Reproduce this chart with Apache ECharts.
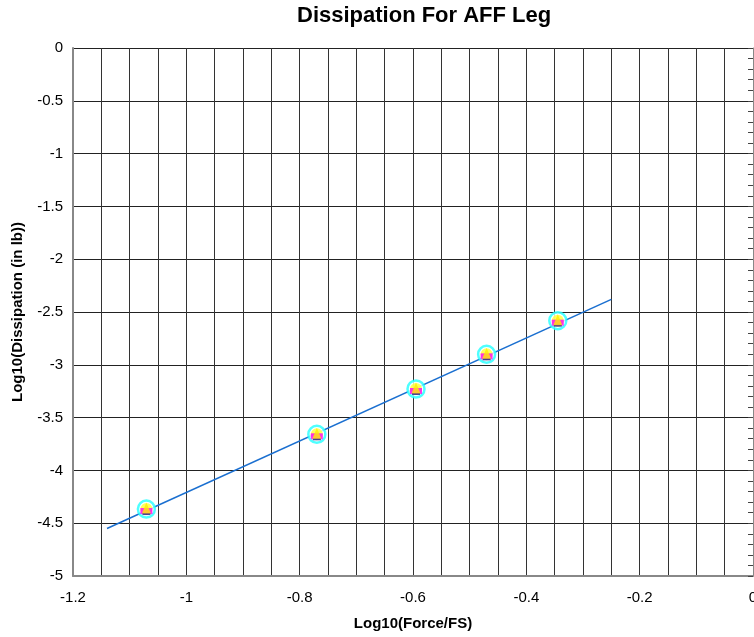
<!DOCTYPE html>
<html>
<head>
<meta charset="utf-8">
<script src="https://cdn.jsdelivr.net/npm/echarts@6/dist/echarts.min.js"></script>
<style>
  html, body { margin: 0; padding: 0; background: #fff; }
  #chart { width: 754px; height: 637px; }
</style>
</head>
<body>
<div id="chart"></div>
<script>
// Measured points: log10(force / full scale) vs log10(dissipation)
const logForce = [-1.0705, -0.7697, -0.5947, -0.4701, -0.3445];
const logDissipation = [-4.366, -3.658, -3.229, -2.901, -2.582];

// Power-law fit drawn as a straight line in log-log space
const fitX = [-1.14, -0.25];
const fitY = [-4.55, -2.38];

const xTickLabels = ['-1.2', '-1', '-0.8', '-0.6', '-0.4', '-0.2', '0'];
const yTickLabels = ['0', '-0.5', '-1', '-1.5', '-2', '-2.5', '-3', '-3.5', '-4', '-4.5', '-5'];

const FONT = 'Liberation Sans, Arial, sans-serif';

const pts = logForce.map((x, i) => [x, logDissipation[i]]);
const fitLine = fitX.map((x, i) => [x, fitY[i]]);

function xLabel(v) {
  const k = Math.round(v * 20);
  if (k % 4 !== 0) return '';
  const s = (k / 20).toFixed(1).replace(/\.0$/, '');
  return xTickLabels.includes(s) ? s : '';
}
function yLabel(v) {
  const s = String(Math.round(v * 10) / 10);
  return yTickLabels.includes(s) ? s : '';
}

const chart = echarts.init(document.getElementById('chart'), null, { renderer: 'canvas' });
chart.setOption({
  animation: false,
  backgroundColor: '#fff',
  title: {
    text: 'Dissipation For AFF Leg',
    left: 292,
    top: 0,
    textStyle: { fontFamily: FONT, fontSize: 22, fontWeight: 'bold', color: '#000' }
  },
  grid: { left: 73, right: 1, top: 48, bottom: 61, containLabel: false, outerBoundsMode: 'none' },
  xAxis: {
    type: 'value',
    min: -1.2, max: 0, interval: 0.05,
    name: 'Log10(Force/FS)',
    nameLocation: 'middle',
    nameGap: 40,
    nameTextStyle: { fontFamily: FONT, fontSize: 15, fontWeight: 'bold', color: '#000' },
    axisLine: { show: true, onZero: false, lineStyle: { color: '#888', width: 2 } },
    axisTick: { show: false },
    axisLabel: {
      formatter: xLabel, margin: 14, showMaxLabel: true, showMinLabel: true,
      fontFamily: FONT, fontSize: 15, color: '#000'
    },
    splitLine: { show: true, lineStyle: { color: '#333', width: 1 } }
  },
  yAxis: [{
    type: 'value',
    min: -5, max: 0, interval: 0.5,
    name: 'Log10(Dissipation (in lb))',
    nameLocation: 'middle',
    nameGap: 48,
    nameRotate: 90,
    nameTextStyle: { fontFamily: FONT, fontSize: 15, fontWeight: 'bold', color: '#000' },
    axisLine: { show: true, onZero: false, lineStyle: { color: '#888', width: 2 } },
    axisTick: { show: false },
    axisLabel: { formatter: yLabel, margin: 10, fontFamily: FONT, fontSize: 15, color: '#000' },
    splitLine: { show: true, lineStyle: { color: '#222', width: 1 } }
  }, {
    type: 'value',
    position: 'right',
    min: -5, max: 0, interval: 0.1,
    axisLine: { show: true, onZero: false, lineStyle: { color: '#888', width: 1 } },
    axisTick: { show: true, inside: true, length: 5, lineStyle: { color: '#444' } },
    axisLabel: { show: false },
    splitLine: { show: false }
  }],
  series: [
    {
      type: 'line', data: fitLine, showSymbol: false, symbol: 'none',
      lineStyle: { color: '#1a6fd0', width: 1.5 }, z: 2
    },
    {
      type: 'scatter', data: pts, symbol: 'circle', symbolSize: 17,
      itemStyle: { color: '#fff', borderColor: '#22ffff', borderWidth: 2.5 }, z: 3
    },
    {
      type: 'scatter', data: pts, symbol: 'circle', symbolSize: 12,
      itemStyle: { color: '#ffff33' }, z: 4
    },
    {
      type: 'scatter', data: pts, symbol: 'rect', symbolSize: [12, 6], symbolOffset: [0, 2],
      itemStyle: { color: '#ff00ff' }, z: 5
    },
    {
      type: 'scatter', data: pts, symbol: 'rect', symbolSize: [8, 2], symbolOffset: [0, 5],
      itemStyle: { color: '#1a1a90' }, z: 6
    },
    {
      type: 'scatter', data: pts, symbol: 'triangle', symbolSize: [9, 11], symbolOffset: [0, -1],
      itemStyle: { color: '#ffee00' }, z: 7
    }
  ]
});
</script>
</body>
</html>
